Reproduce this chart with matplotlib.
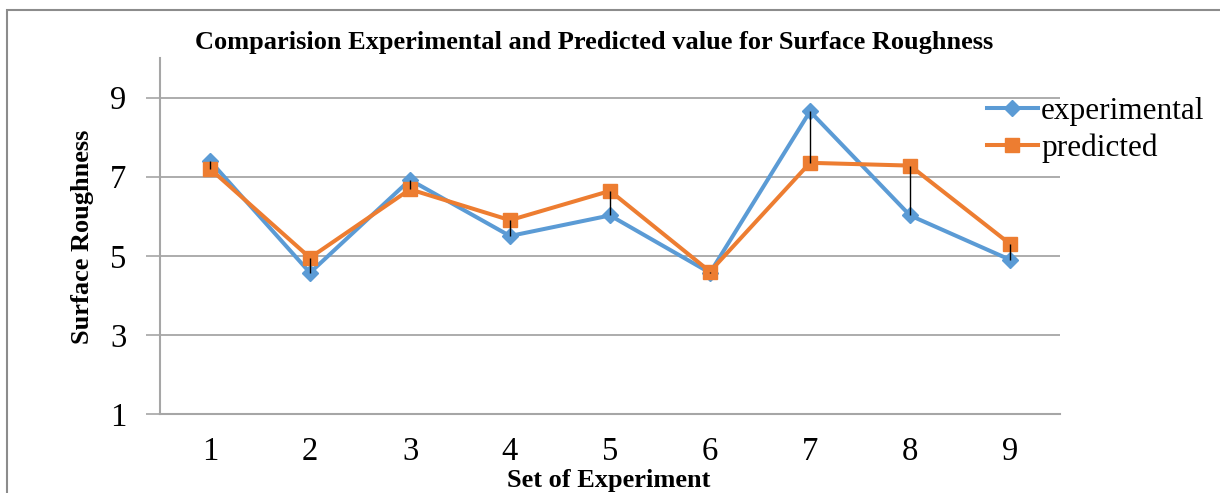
import matplotlib
matplotlib.use("Agg")
import matplotlib.pyplot as plt
from matplotlib.patches import Rectangle

plt.rcParams['font.family'] = ['Liberation Serif', 'DejaVu Serif']

# Surface roughness, measured vs model
runs = [1, 2, 3, 4, 5, 6, 7, 8, 9]
experimental = [7.4, 4.57, 6.92, 5.5, 6.02, 4.57, 8.65, 6.02, 4.9]
predicted = [7.2, 4.95, 6.68, 5.9, 6.64, 4.6, 7.35, 7.28, 5.3]
y_ticks = [1, 3, 5, 7, 9]

blue = '#5B9BD5'
orange = '#ED7D31'
grid_grey = '#A6A6A6'

fig = plt.figure(figsize=(12.2, 4.93), dpi=100)
ax = fig.add_axes([160 / 1220, 1 - 414 / 493, 900 / 1220, 356 / 493])

# outer chart frame
fig.patches.append(Rectangle((7 / 1220, -0.1), 1.2, 1 - 10 / 493 + 0.1,
                             transform=fig.transFigure, fill=False,
                             edgecolor='#8C8C8C', linewidth=1.5))

# high-low lines between the two series
lo = [min(a, b) for a, b in zip(experimental, predicted)]
hi = [max(a, b) for a, b in zip(experimental, predicted)]
ax.vlines(runs, lo, hi, colors='black', linewidth=1.0, zorder=4)

ax.plot(runs, experimental, color=blue, linewidth=2.9, marker='D',
        markersize=8, label='experimental', zorder=3)
ax.plot(runs, predicted, color=orange, linewidth=2.9, marker='s',
        markersize=9.5, label='predicted', zorder=3)

ax.set_xlim(0.5, 9.5)
ax.set_ylim(1, 10)
ax.set_xticks(runs)
ax.set_yticks(y_ticks)
ax.tick_params(axis='x', length=0, labelsize=23.5, pad=16)
ax.tick_params(axis='y', length=10, width=1.2, color=grid_grey,
               labelsize=23.5, pad=14)
ax.grid(axis='y', color=grid_grey, linewidth=1.3)
ax.set_axisbelow(True)
for side in ['top', 'right']:
    ax.spines[side].set_visible(False)
for side in ['left', 'bottom']:
    ax.spines[side].set_color(grid_grey)
    ax.spines[side].set_linewidth(1.5)

fig.text(594 / 1220, 1 - 43 / 493,
         'Comparision Experimental and Predicted value for Surface Roughness',
         ha='center', va='center', fontsize=19, fontweight='bold')
fig.text(609 / 1220, 1 - 481 / 493, 'Set of Experiment',
         ha='center', va='center', fontsize=19, fontweight='bold')
fig.text(82 / 1220, 1 - 237 / 493, 'Surface Roughness', rotation=90,
         ha='center', va='center', fontsize=19, fontweight='bold')

leg = ax.legend(loc='upper left', bbox_to_anchor=(974 / 1220, 1 - 84 / 493),
                bbox_transform=fig.transFigure, frameon=False, fontsize=22.5,
                handlelength=1.65, handletextpad=0.1, labelspacing=0.25,
                borderaxespad=0)

fig.savefig('out.png', dpi=100)
